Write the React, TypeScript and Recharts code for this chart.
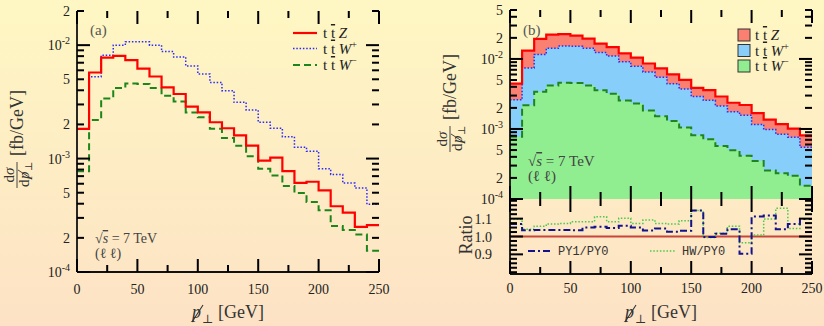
import { ComposedChart, Line, Area, XAxis, YAxis, ReferenceLine } from 'recharts';

const SERIF = '"Liberation Serif", "DejaVu Serif", serif';
const MONO = '"Liberation Mono", "DejaVu Sans Mono", monospace';
const INK = '#111';

// bin edges in GeV, 10 GeV bins (the last edge closes the final bin)
const binEdges = [0, 10, 20, 30, 40, 50, 60, 70, 80, 90, 100, 110, 120, 130, 140, 150, 160, 170, 180, 190, 200, 210, 220, 230, 240, 250];

// dsigma/dpT-miss [fb/GeV] per bin
const ttZ = [1.83e-3, 5.74e-3, 7.77e-3, 8.04e-3, 7.37e-3, 6.22e-3, 5.29e-3, 4.24e-3, 3.71e-3, 2.87e-3, 2.55e-3, 2.09e-3, 1.85e-3, 1.6e-3, 1.3e-3, 9.6e-4, 1.02e-3, 7.75e-4, 6.1e-4, 6.25e-4, 5.25e-4, 3.8e-4, 3.34e-4, 2.5e-4, 2.59e-4];
const ttWplus = [1.83e-3, 5.26e-3, 8.15e-3, 1.0e-2, 1.07e-2, 1.07e-2, 1.0e-2, 8.77e-3, 7.87e-3, 6.56e-3, 5.56e-3, 4.69e-3, 3.96e-3, 3.13e-3, 2.68e-3, 2.09e-3, 1.85e-3, 1.56e-3, 1.26e-3, 1.16e-3, 8.13e-4, 7.25e-4, 6.08e-4, 5.5e-4, 3.95e-4];
const ttWminus = [7.75e-4, 2.19e-3, 3.39e-3, 4.18e-3, 4.59e-3, 4.54e-3, 4.18e-3, 3.58e-3, 3.19e-3, 2.55e-3, 2.31e-3, 1.83e-3, 1.52e-3, 1.3e-3, 1.05e-3, 8.13e-4, 7.11e-4, 5.73e-4, 4.97e-4, 4.14e-4, 3.5e-4, 2.55e-4, 2.34e-4, 2.14e-4, 1.54e-4];

// generator ratios per bin
const ratioPY1 = [1.07, 1.035, 1.037, 1.037, 1.037, 1.035, 1.05, 1.055, 1.047, 1.06, 1.05, 1.034, 1.045, 1.027, 1.032, 1.145, 0.997, 1.015, 1.04, 0.903, 1.112, 1.118, 1.04, 1.07, 1.098];
const ratioHW = [1.096, 1.04, 1.058, 1.07, 1.073, 1.082, 1.082, 1.11, 1.082, 1.102, 1.073, 1.092, 1.073, 1.07, 1.088, 1.145, 0.995, 1.018, 1.058, 0.965, 1.008, 1.098, 1.158, 1.045, 1.1];

// ticks: majors carry labels and long marks, minors get short marks
const xMajor = [0, 50, 100, 150, 200, 250];
const xMinor = [25, 75, 125, 175, 225];
const logDecades = [1e-4, 1e-3, 1e-2];
const logMinorA = [2e-4, 3e-4, 4e-4, 5e-4, 6e-4, 7e-4, 8e-4, 9e-4, 2e-3, 3e-3, 4e-3, 5e-3, 6e-3, 7e-3, 8e-3, 9e-3, 2e-2];
const logMinorB = [2e-4, 3e-4, 4e-4, 5e-4, 6e-4, 7e-4, 8e-4, 9e-4, 2e-3, 3e-3, 4e-3, 5e-3, 6e-3, 7e-3, 8e-3, 9e-3, 2e-2, 3e-2, 4e-2, 5e-2];
const logLabelsA = [1e-4, 2e-4, 5e-4, 1e-3, 2e-3, 5e-3, 1e-2, 2e-2];
const logLabelsB = [1e-4, 2e-4, 5e-4, 1e-3, 2e-3, 5e-3, 1e-2, 2e-2, 5e-2];
const ratioMajor = [0.9, 1.0, 1.1];
const ratioMinor = [0.8, 0.825, 0.85, 0.875, 0.925, 0.95, 0.975, 1.025, 1.05, 1.075, 1.125, 1.15, 1.175, 1.2];

const xDomain: [number, number] = [0, 250];
const yDomainA: [number, number] = [1e-4, 2e-2];
const yDomainB: [number, number] = [1e-4, 5e-2];
const yDomainR: [number, number] = [0.79, 1.21];

const last = ttZ.length - 1;
const histRows = binEdges.map((x, i) => {
    const k = Math.min(i, last);
    return {
        x,
        z: ttZ[k],
        wp: ttWplus[k],
        wm: ttWminus[k],
        ws: ttWplus[k] + ttWminus[k],
        tot: ttZ[k] + ttWplus[k] + ttWminus[k],
    };
});
const ratioRows = binEdges.map((x, i) => {
    const k = Math.min(i, last);
    return { x, py1: ratioPY1[k], hw: ratioHW[k] };
});

// plot boxes in page pixels; the charts' margins are set from these
type Box = { left: number; top: number; width: number; height: number };
const boxA: Box = { left: 77, top: 11, width: 302, height: 261 };
const boxB: Box = { left: 510, top: 10, width: 302, height: 189 };
const boxR: Box = { left: 510, top: 199, width: 302, height: 75 };

const frame = { stroke: INK, strokeWidth: 1.8 };
const MAJOR = 13;
const MINOR = 7;
const TICK_W = 2;

function logLabel(p: any) {
    const { x, y, payload } = p;
    const v = payload.value;
    const e = Math.floor(Math.log10(v) + 1e-9);
    const m = Math.round(v / Math.pow(10, e));
    return (
        <text x={x - 7} y={y} dy={5} textAnchor="end" fontSize={14} fontFamily={SERIF} fill="#222">
            {m === 1 ? <>10<tspan dy={-6} fontSize={10}>{e}</tspan></> : String(m)}
        </text>
    );
}

function ratioLabel(p: any) {
    return (
        <text x={p.x - 18} y={p.y} dy={5} textAnchor="end" fontSize={14} fontFamily={SERIF} fill="#222">
            {p.payload.value.toFixed(1)}
        </text>
    );
}

function xLabel(dy: number) {
    return (p: any) => (
        <text x={p.x} y={p.y + dy} textAnchor="middle" fontSize={14} fontFamily={SERIF} fill="#222">
            {p.payload.value}
        </text>
    );
}

const labelAxis = {
    type: 'number' as const,
    allowDataOverflow: true,
    interval: 0 as const,
    tickSize: 0,
    tickMargin: 0,
    tickLine: false,
    axisLine: frame,
};

function PanelA() {
    return (
        <div style={{ position: 'absolute', left: 0, top: 0 }}>
            <ComposedChart width={392} height={326} data={histRows} margin={{ top: boxA.top, right: 392 - boxA.left - boxA.width, bottom: 0, left: 0 }}>
                <XAxis dataKey="x" {...labelAxis} domain={xDomain} ticks={xMajor} height={326 - boxA.top - boxA.height} tick={xLabel(22)} />
                <XAxis xAxisId="top" orientation="top" {...labelAxis} domain={xDomain} height={0} tick={false} />
                <YAxis {...labelAxis} scale="log" domain={yDomainA} ticks={logLabelsA} width={boxA.left} tick={logLabel} />
                <YAxis yAxisId="right" orientation="right" {...labelAxis} scale="log" domain={yDomainA} width={0} tick={false} />
                <Line dataKey="wm" type="stepAfter" stroke="#1c861c" strokeWidth={2} strokeDasharray="7 4" dot={false} activeDot={false} isAnimationActive={false} />
                <Line dataKey="wp" type="stepAfter" stroke="#2a2aff" strokeWidth={1.5} strokeDasharray="1.5 1.8" dot={false} activeDot={false} isAnimationActive={false} />
                <Line dataKey="z" type="stepAfter" stroke="#ff0000" strokeWidth={2.2} dot={false} activeDot={false} isAnimationActive={false} />
            </ComposedChart>
        </div>
    );
}

function PanelB() {
    return (
        <div style={{ position: 'absolute', left: 420, top: 0 }}>
            <ComposedChart width={404} height={210} data={histRows} margin={{ top: boxB.top, right: 824 - boxB.left - boxB.width, bottom: 210 - boxB.top - boxB.height, left: 0 }}>
                <XAxis dataKey="x" {...labelAxis} domain={xDomain} height={0} tick={false} />
                <XAxis xAxisId="top" orientation="top" {...labelAxis} domain={xDomain} height={0} tick={false} />
                <YAxis {...labelAxis} scale="log" domain={yDomainB} ticks={logLabelsB} width={boxB.left - 420} tick={logLabel} />
                <YAxis yAxisId="right" orientation="right" {...labelAxis} scale="log" domain={yDomainB} width={0} tick={false} />
                <Area dataKey="tot" type="stepAfter" baseValue="dataMin" fill="#fa8072" fillOpacity={1} stroke="none" isAnimationActive={false} />
                <Area dataKey="ws" type="stepAfter" baseValue="dataMin" fill="#87cefa" fillOpacity={1} stroke="none" isAnimationActive={false} />
                <Area dataKey="wm" type="stepAfter" baseValue="dataMin" fill="#90ee90" fillOpacity={1} stroke="none" isAnimationActive={false} />
                <Line dataKey="wm" type="stepAfter" stroke="#1c861c" strokeWidth={2} strokeDasharray="7 4" dot={false} activeDot={false} isAnimationActive={false} />
                <Line dataKey="ws" type="stepAfter" stroke="#2a2aff" strokeWidth={1.5} strokeDasharray="1.5 1.8" dot={false} activeDot={false} isAnimationActive={false} />
                <Line dataKey="tot" type="stepAfter" stroke="#ff0000" strokeWidth={2.2} dot={false} activeDot={false} isAnimationActive={false} />
            </ComposedChart>
        </div>
    );
}

function PanelRatio() {
    return (
        <div style={{ position: 'absolute', left: 420, top: boxR.top }}>
            <ComposedChart width={404} height={326 - boxR.top} data={ratioRows} margin={{ top: 0, right: 824 - boxR.left - boxR.width, bottom: 0, left: 0 }}>
                <XAxis dataKey="x" {...labelAxis} domain={xDomain} ticks={xMajor} height={326 - boxR.top - boxR.height} tick={xLabel(19)} />
                <XAxis xAxisId="top" orientation="top" {...labelAxis} domain={xDomain} height={0} tick={false} />
                <YAxis {...labelAxis} domain={yDomainR} ticks={ratioMajor} width={boxR.left - 420} tick={ratioLabel} />
                <YAxis yAxisId="right" orientation="right" {...labelAxis} domain={yDomainR} width={0} tick={false} />
                <ReferenceLine y={1} stroke="#c8453a" strokeWidth={2} />
                <Line dataKey="hw" type="stepAfter" stroke="#4cc94c" strokeWidth={1.5} strokeDasharray="1.5 1.8" dot={false} activeDot={false} isAnimationActive={false} />
                <Line dataKey="py1" type="stepAfter" stroke="#12128c" strokeWidth={2} strokeDasharray="7 3 2 3" dot={false} activeDot={false} isAnimationActive={false} />
            </ComposedChart>
        </div>
    );
}

// inward tick marks on all four sides of a plot box, as small filled bars
function FrameTicks({ box, yDom, log, yMajor, yMinor }: { box: Box; yDom: [number, number]; log: boolean; yMajor: number[]; yMinor: number[] }) {
    const xp = (u: number) => box.left + ((u - xDomain[0]) / (xDomain[1] - xDomain[0])) * box.width;
    const frac = (v: number) =>
        log ? Math.log10(v / yDom[0]) / Math.log10(yDom[1] / yDom[0]) : (v - yDom[0]) / (yDom[1] - yDom[0]);
    const yp = (v: number) => box.top + box.height - frac(v) * box.height;
    const bottom = box.top + box.height;
    const right = box.left + box.width;
    const h = TICK_W / 2;
    const marks: JSX.Element[] = [];
    const addX = (list: number[], len: number) =>
        list.forEach((u) => {
            const x = xp(u);
            marks.push(<rect key={`b${len}-${u}`} x={x - h} y={bottom - len} width={TICK_W} height={len} />);
            marks.push(<rect key={`t${len}-${u}`} x={x - h} y={box.top} width={TICK_W} height={len} />);
        });
    const addY = (list: number[], len: number) =>
        list.forEach((v) => {
            const y = yp(v);
            marks.push(<rect key={`l${len}-${v}`} x={box.left} y={y - h} width={len} height={TICK_W} />);
            marks.push(<rect key={`r${len}-${v}`} x={right - len} y={y - h} width={len} height={TICK_W} />);
        });
    addX(xMajor, MAJOR);
    addX(xMinor, MINOR);
    addY(yMajor, MAJOR);
    addY(yMinor, MINOR);
    return <g fill="#000">{marks}</g>;
}

// x-axis title: slashed p with perp subscript, then [GeV]
function XTitle({ x, y }: { x: number; y: number }) {
    return (
        <g fill="#333" fontFamily={SERIF}>
            <text x={x} y={y} fontSize={18} fontStyle="italic">p</text>
            <line x1={x} x2={x + 11} y1={y + 4} y2={y - 13} stroke="#333" strokeWidth={1.1} />
            <text x={x + 10} y={y + 5} fontSize={12}>⊥</text>
            <text x={x + 26} y={y} fontSize={18}>[GeV]</text>
        </g>
    );
}

function YTitle({ x, y }: { x: number; y: number }) {
    return (
        <g transform={`translate(${x},${y}) rotate(-90)`} fill="#333" fontFamily={SERIF}>
            <text x={0} y={-3} fontSize={15} textAnchor="middle">
                d<tspan fontStyle="italic">σ</tspan>
            </text>
            <line x1={-13} x2={13} y1={0} y2={0} stroke="#333" strokeWidth={0.9} />
            <text x={-12} y={12} fontSize={15}>d</text>
            <text x={-4} y={12} fontSize={15} fontStyle="italic">p</text>
            <line x1={-4} x2={5} y1={15} y2={1} stroke="#333" strokeWidth={0.9} />
            <text x={4} y={15} fontSize={10}>⊥</text>
            <text x={52} y={6} fontSize={18} textAnchor="middle">[fb/GeV]</text>
        </g>
    );
}

function ProcessLabel({ x, y, boson, sign }: { x: number; y: number; boson: string; sign?: string }) {
    return (
        <text x={x} y={y} fontSize={15} fontFamily={SERIF} fill="#222">
            t{' '}<tspan style={{ textDecoration: 'overline' }}>t</tspan>{' '}
            <tspan fontStyle="italic">{boson}</tspan>
            {sign && <tspan dy={-6} fontSize={10}>{sign}</tspan>}
        </text>
    );
}

function Energy({ x, y, size }: { x: number; y: number; size: number }) {
    return (
        <g fontFamily={SERIF} fill="#444" fontSize={size}>
            <text x={x} y={y}>
                √<tspan fontStyle="italic" style={{ textDecoration: 'overline' }}>s</tspan> = 7 TeV
            </text>
            <text x={x} y={y + 15}>(ℓ ℓ)</text>
        </g>
    );
}

function Annotations() {
    return (
        <svg width={824} height={326} style={{ position: 'absolute', left: 0, top: 0, pointerEvents: 'none' }}>
            <FrameTicks box={boxA} yDom={yDomainA} log yMajor={logDecades} yMinor={logMinorA} />
            <FrameTicks box={boxB} yDom={yDomainB} log yMajor={logDecades} yMinor={logMinorB} />
            <FrameTicks box={boxR} yDom={yDomainR} log={false} yMajor={ratioMajor} yMinor={ratioMinor} />

            {/* panel (a) */}
            <text x={90} y={35} fontSize={15} fontFamily={SERIF} fill="#555">(a)</text>
            <line x1={293} x2={317} y1={33} y2={33} stroke="#ff0000" strokeWidth={2.2} />
            <line x1={293} x2={317} y1={48.5} y2={48.5} stroke="#2a2aff" strokeWidth={1.5} strokeDasharray="1.5 1.8" />
            <line x1={293} x2={317} y1={65} y2={65} stroke="#1c861c" strokeWidth={2} strokeDasharray="7 4" />
            <ProcessLabel x={323} y={38} boson="Z" />
            <ProcessLabel x={323} y={53.5} boson="W" sign="+" />
            <ProcessLabel x={323} y={70} boson="W" sign="−" />
            <Energy x={95} y={243} size={14} />
            <YTitle x={17} y={175} />
            <XTitle x={192} y={318} />

            {/* panel (b) */}
            <text x={523} y={35} fontSize={15} fontFamily={SERIF} fill="#555">(b)</text>
            <rect x={738} y={29} width={12} height={12} fill="#fa8072" stroke="#333" strokeWidth={1} />
            <rect x={738} y={44.5} width={12} height={12} fill="#87cefa" stroke="#333" strokeWidth={1} />
            <rect x={738} y={60} width={12} height={12} fill="#90ee90" stroke="#333" strokeWidth={1} />
            <ProcessLabel x={755} y={40} boson="Z" />
            <ProcessLabel x={755} y={55.5} boson="W" sign="+" />
            <ProcessLabel x={755} y={71} boson="W" sign="−" />
            <Energy x={528} y={166} size={15} />
            <YTitle x={450} y={139} />
            <text transform="translate(472,235) rotate(-90)" textAnchor="middle" fontSize={18} fontFamily={SERIF} fill="#333">
                Ratio
            </text>
            <line x1={528} x2={552} y1={251} y2={251} stroke="#12128c" strokeWidth={2} strokeDasharray="7 3 2 3" />
            <text x={558} y={255} fontSize={12} fontFamily={MONO} fill="#333">PY1/PY0</text>
            <line x1={650} x2={675} y1={251} y2={251} stroke="#4cc94c" strokeWidth={1.5} strokeDasharray="1.5 1.8" />
            <text x={682} y={255} fontSize={12} fontFamily={MONO} fill="#333">HW/PY0</text>
            <XTitle x={625} y={318} />
        </svg>
    );
}

export default function App() {
    return (
        <div
            style={{
                position: 'absolute',
                left: 0,
                top: 0,
                width: 824,
                height: 326,
                overflow: 'hidden',
                background: 'linear-gradient(180deg, #fef7c3 0%, #fde2c5 100%)',
                fontFamily: SERIF,
            }}
        >
            <PanelA />
            <PanelB />
            <PanelRatio />
            <Annotations />
        </div>
    );
}
